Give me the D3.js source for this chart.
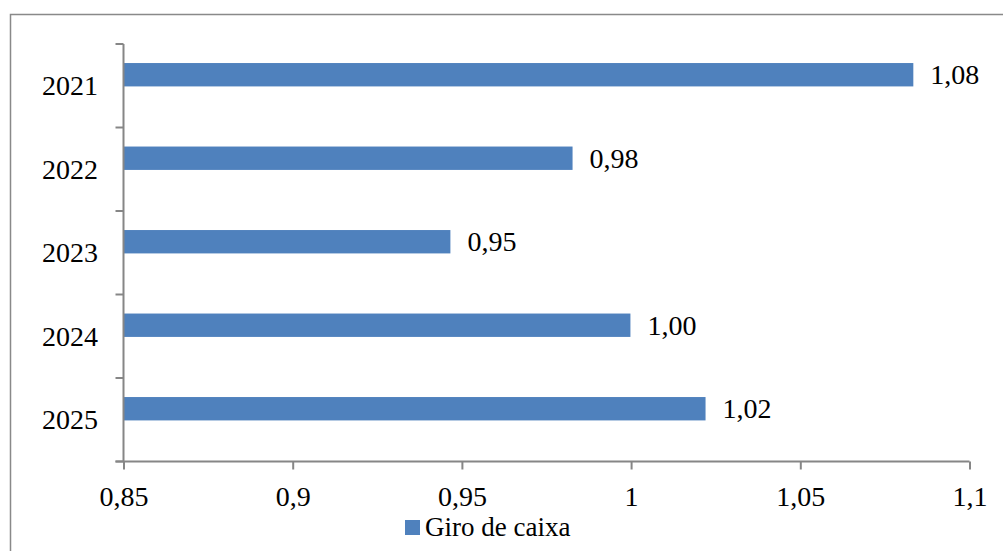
<!DOCTYPE html>
<html>
<head>
<meta charset="utf-8">
<script src="https://cdn.jsdelivr.net/npm/d3@7"></script>
<style>
  html, body { margin: 0; padding: 0; background: #fff; overflow: hidden; }
  svg { display: block; }
  text { font-family: "Liberation Serif", "DejaVu Serif", serif; fill: #000; }
</style>
</head>
<body>
<svg id="chart" width="1003" height="551"></svg>
<script>
// Cash turnover by year
const years = ["2021", "2022", "2023", "2024", "2025"];
const giroDeCaixa = [1.0834, 0.9827, 0.9466, 0.9998, 1.0220];
const xTicks = [0.85, 0.9, 0.95, 1, 1.05, 1.1];
const seriesName = "Giro de caixa";

const W = 1003, H = 551;
const plot = { left: 123.5, right: 969.5, top: 44, bottom: 461.5 };
const barColor = "#4f81bd";
const axisColor = "#868686";
const fontSize = 28;

const svg = d3.select("#chart");
const comma = s => s.replace(".", ",");

// Outer frame (runs past the right and bottom edges)
svg.append("rect")
  .attr("x", 10.5).attr("y", 14.5)
  .attr("width", W + 10).attr("height", H + 10)
  .attr("fill", "none").attr("stroke", "#898989").attr("stroke-width", 1.5);

const x = d3.scaleLinear().domain([0.85, 1.1]).range([plot.left, plot.right]);
const y = d3.scaleBand().domain(years).range([plot.top, plot.bottom]);

// Bars sit in the upper part of each category band
const bw = y.bandwidth();
const barOffset = bw * 0.228, barH = bw * 0.28;

const rows = years.map((yr, i) => ({ yr, v: giroDeCaixa[i] }));

svg.append("g").selectAll("rect")
  .data(rows)
  .join("rect")
  .attr("x", x(0.85))
  .attr("y", d => y(d.yr) + barOffset)
  .attr("width", d => x(d.v) - x(0.85))
  .attr("height", barH)
  .attr("fill", barColor);

// Value labels
svg.append("g").selectAll("text")
  .data(rows)
  .join("text")
  .attr("x", d => x(d.v) + 17)
  .attr("y", d => y(d.yr) + barOffset + barH / 2 + 9.5)
  .attr("font-size", fontSize)
  .text(d => comma(d3.format(".2f")(d.v)));

// Category axis with tick marks on band boundaries
const yAxisG = svg.append("g");
yAxisG.append("line")
  .attr("x1", plot.left).attr("x2", plot.left)
  .attr("y1", plot.top).attr("y2", plot.bottom)
  .attr("stroke", axisColor).attr("stroke-width", 2);
const bounds = years.map(d => y(d)).concat([plot.bottom]);
yAxisG.selectAll("line.tick").data(bounds).join("line")
  .attr("class", "tick")
  .attr("x1", plot.left - 8).attr("x2", plot.left)
  .attr("y1", d => d).attr("y2", d => d)
  .attr("stroke", axisColor).attr("stroke-width", 2);
yAxisG.selectAll("text").data(years).join("text")
  .attr("x", 98).attr("y", d => y(d) + bw / 2 + 9.5)
  .attr("text-anchor", "end").attr("font-size", fontSize)
  .text(d => d);

// Value axis
const xAxis = d3.axisBottom(x)
  .tickValues(xTicks)
  .tickSize(8)
  .tickFormat(d => comma(String(d)));
const xAxisG = svg.append("g")
  .attr("transform", `translate(0,${plot.bottom})`)
  .call(xAxis);
xAxisG.select(".domain").remove();
xAxisG.append("line")
  .attr("x1", plot.left - 8).attr("x2", plot.right)
  .attr("stroke", axisColor).attr("stroke-width", 2);
xAxisG.selectAll(".tick line").attr("stroke", axisColor).attr("stroke-width", 2);
xAxisG.selectAll(".tick text")
  .attr("y", 44).attr("dy", 0)
  .attr("font-size", fontSize)
  .attr("font-family", "Liberation Serif, DejaVu Serif, serif")
  .attr("fill", "#000");

// Legend
const lg = svg.append("g");
lg.append("rect")
  .attr("x", 405).attr("y", 520).attr("width", 15).attr("height", 15)
  .attr("fill", barColor);
lg.append("text")
  .attr("x", 425).attr("y", 536)
  .attr("font-size", 27)
  .text(seriesName);
</script>
</body>
</html>
